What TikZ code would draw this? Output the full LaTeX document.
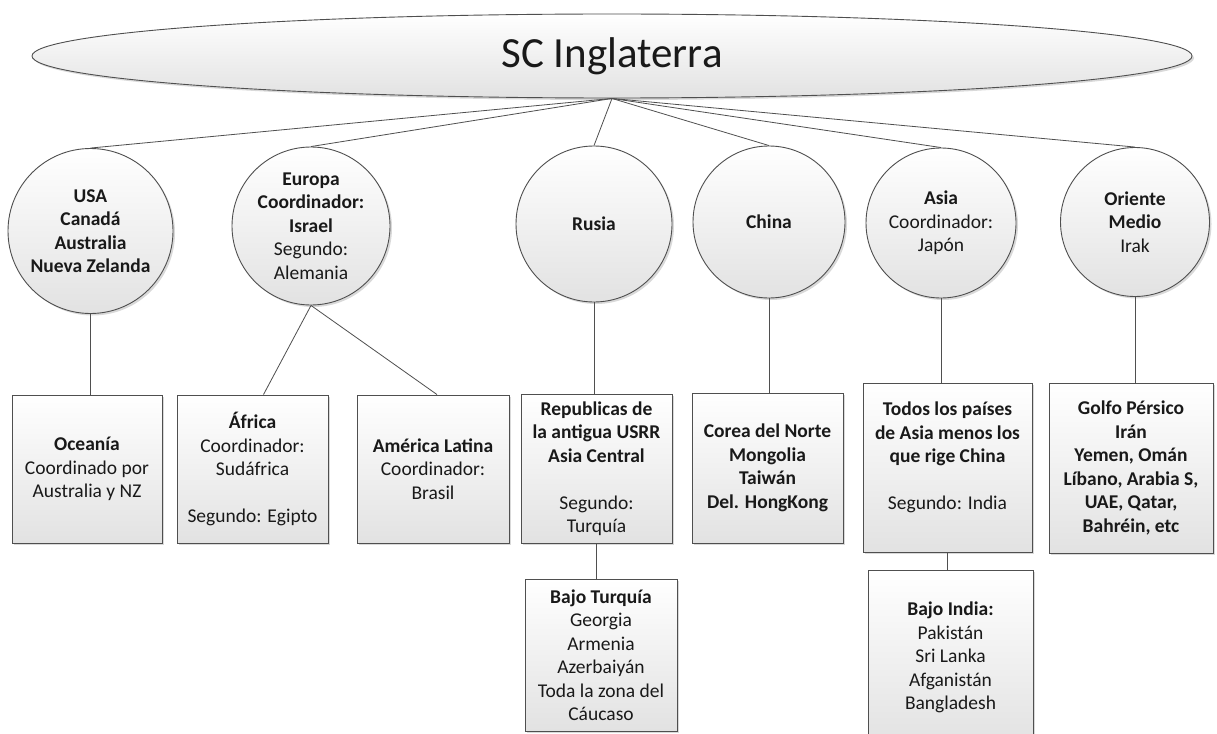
\documentclass[tikz,border=0pt]{standalone}
\usepackage{fontspec}
\setmainfont{Carlito}
\usetikzlibrary{shapes.geometric,shadows}
\definecolor{edgec}{HTML}{4F4F4F}
\definecolor{fillbot}{HTML}{E2E2E2}
\tikzset{
  base/.style={draw=edgec, line width=0.9pt, top color=white, bottom color=fillbot,
    drop shadow={shadow xshift=2pt, shadow yshift=-2pt, opacity=0.15, fill=black},
    align=center, inner sep=0pt, text=black!90,
    font=\fontsize{19.5}{23.5}\selectfont},
  circ/.style={base, circle, minimum size=#1},
  boxn/.style 2 args={base, rectangle, minimum width=#1, minimum height=#2},
  link/.style={draw=edgec, line width=0.8pt},
}
\begin{document}
\begin{tikzpicture}[x=1pt,y=-1pt]
\clip (0,0) rectangle (1217,733);
\fill[white] (0,0) rectangle (1217,733);
% title
\node[base, ellipse, minimum width=1160pt, minimum height=84pt,
      font=\fontsize{43}{50}\selectfont] (title) at (612,56) {SC Inglaterra};
% first row
\node[circ=165pt] (usa) at (90.5,231) {\textbf{USA}\\\textbf{Canadá}\\\textbf{Australia}\\\textbf{Nueva Zelanda}};
\node[circ=158pt] (eur) at (311,226) {\textbf{Europa}\\\textbf{Coordinador:}\\\textbf{Israel}\\Segundo:\\Alemania};
\node[circ=156pt] (rus) at (594,224) {\textbf{Rusia}};
\node[circ=152pt] (chi) at (769,222) {\textbf{China}};
\node[circ=150pt] (asi) at (941,223) {\textbf{Asia}\\Coordinador:\\Japón};
\node[circ=149pt] (ori) at (1135,222) {\textbf{Oriente}\\\textbf{Medio}\\Irak};
% second row
\node[boxn={150pt}{148pt}] (oce) at (87,469) {\textbf{Oceanía}\\Coordinado por\\Australia y NZ};
\node[boxn={151pt}{148pt}] (afr) at (252.5,469) {\textbf{África}\\Coordinador:\\Sudáfrica\\\mbox{}\\Segundo: Egipto};
\node[boxn={152pt}{148pt}] (aml) at (433,469) {\textbf{América Latina}\\Coordinador:\\Brasil};
\node[boxn={151pt}{149pt}] (rep) at (596.5,468.5) {\textbf{Republicas de}\\\textbf{la antigua USRR}\\\textbf{Asia Central}\\\mbox{}\\Segundo:\\Turquía};
\node[boxn={151pt}{150pt}] (cor) at (767.5,468) {\textbf{Corea del Norte}\\\textbf{Mongolia}\\\textbf{Taiwán}\\\textbf{Del. HongKong}};
\node[boxn={169pt}{169pt}] (tod) at (947.5,467.5) {\textbf{Todos los países}\\\textbf{de Asia menos los}\\\textbf{que rige China}\\\mbox{}\\Segundo: India\\\mbox{}};
\node[boxn={164pt}{170pt}] (gol) at (1131,468) {\textbf{Golfo Pérsico}\\\textbf{Irán}\\\textbf{Yemen, Omán}\\\textbf{Líbano, Arabia S,}\\\textbf{UAE, Qatar,}\\\textbf{Bahréin, etc}};
% third row
\node[boxn={152pt}{152pt}] (btu) at (601,655) {\textbf{Bajo Turquía}\\Georgia\\Armenia\\Azerbaiyán\\Toda la zona del\\Cáucaso};
\node[boxn={165pt}{175pt}] (bin) at (950.5,657.5) {\textbf{Bajo India:}\\Pakistán\\Sri Lanka\\Afganistán\\Bangladesh};
% connectors
\foreach \n in {usa,eur,rus,chi,asi,ori}
  \draw[link] (title.south) -- (\n.north);
\draw[link] (usa.south) -- (usa.south |- oce.north);
\draw[link] (eur.south) -- ([xshift=11pt]afr.north);
\draw[link] (eur.south) -- ([xshift=4pt]aml.north);
\draw[link] (rus.south) -- (rus.south |- rep.north);
\draw[link] (chi.south) -- (chi.south |- cor.north);
\draw[link] (asi.south) -- (asi.south |- tod.north);
\draw[link] (ori.south) -- (ori.south |- gol.north);
\draw[link] (rep.south) -- (rep.south |- btu.north);
\draw[link] (tod.south) -- (tod.south |- bin.north);
\end{tikzpicture}
\end{document}
